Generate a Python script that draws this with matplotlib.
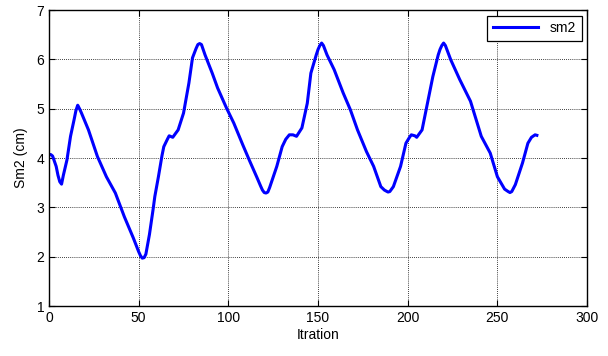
import matplotlib
matplotlib.use("Agg")
import matplotlib.pyplot as plt

plt.rcParams["font.family"] = ["Liberation Sans", "DejaVu Sans"]

# Values (iteration, sm2 in cm)
iteration = [0, 1, 2, 4, 5, 6, 7, 8, 10, 12, 14, 15, 16, 17, 18, 22, 27, 32,
             37, 42, 47, 50, 51, 52, 53, 54, 56, 58, 59, 61, 63, 64, 66, 67,
             69, 72, 75, 78, 80, 82, 83, 84, 85, 87, 91, 94, 99, 103, 108, 112,
             116, 118, 119, 120, 121, 122, 123, 127, 130, 132, 134, 136, 138,
             141, 144, 146, 149, 150, 151, 152, 153, 155, 159, 164, 168, 172,
             177, 181, 185, 187, 189, 190, 192, 196, 199, 201, 202, 204, 205,
             208, 211, 214, 217, 218, 219, 220, 221, 224, 229, 235, 241, 246,
             250, 254, 256, 257, 258, 260, 264, 267, 269, 271, 272]
sm2 = [4.07, 4.07, 4.04, 3.83, 3.65, 3.52, 3.47, 3.65, 3.96, 4.44, 4.78, 4.96,
       5.07, 5.00, 4.92, 4.57, 4.03, 3.62, 3.29, 2.81, 2.38, 2.10, 2.02, 1.97,
       1.98, 2.05, 2.45, 2.95, 3.22, 3.62, 4.05, 4.23, 4.38, 4.45, 4.42, 4.57,
       4.91, 5.52, 6.03, 6.22, 6.30, 6.32, 6.30, 6.09, 5.72, 5.42, 5.01, 4.71,
       4.27, 3.93, 3.60, 3.43, 3.35, 3.30, 3.29, 3.31, 3.40, 3.83, 4.23, 4.38,
       4.47, 4.47, 4.44, 4.61, 5.11, 5.72, 6.09, 6.20, 6.28, 6.33, 6.28, 6.09,
       5.79, 5.32, 4.98, 4.57, 4.13, 3.83, 3.42, 3.35, 3.31, 3.32, 3.42, 3.83,
       4.30, 4.42, 4.47, 4.45, 4.42, 4.57, 5.11, 5.65, 6.09, 6.20, 6.28, 6.33,
       6.28, 5.99, 5.59, 5.15, 4.44, 4.10, 3.62, 3.37, 3.32, 3.30, 3.32, 3.46,
       3.90, 4.30, 4.42, 4.47, 4.46]

x_ticks = [0, 50, 100, 150, 200, 250, 300]
y_ticks = [1, 2, 3, 4, 5, 6, 7]

fig = plt.figure(figsize=(6.08, 3.56), dpi=100)
ax = fig.add_axes([0.0806, 0.1404, 0.885, 0.8315])

ax.plot(iteration, sm2, color="#0000ff", linewidth=2.2, label="sm2")

ax.set_xlim(0, 300)
ax.set_ylim(1, 7)
ax.set_xticks(x_ticks)
ax.set_yticks(y_ticks)
ax.grid(True, color="black", linestyle=(0, (1, 1.5)), linewidth=0.6)
ax.tick_params(direction="in", top=True, right=True, labelsize=10, length=4)
for sp in ax.spines.values():
    sp.set_linewidth(1.0)

ax.set_xlabel("Itration", fontsize=10, labelpad=2)
ax.set_ylabel("Sm2 (cm)", fontsize=10, labelpad=6)

leg = ax.legend(loc="upper right", fontsize=10, fancybox=False, framealpha=1,
                edgecolor="black", handlelength=3.3, borderaxespad=0.4)
leg.get_frame().set_linewidth(0.9)

fig.savefig("out.png", dpi=100)
